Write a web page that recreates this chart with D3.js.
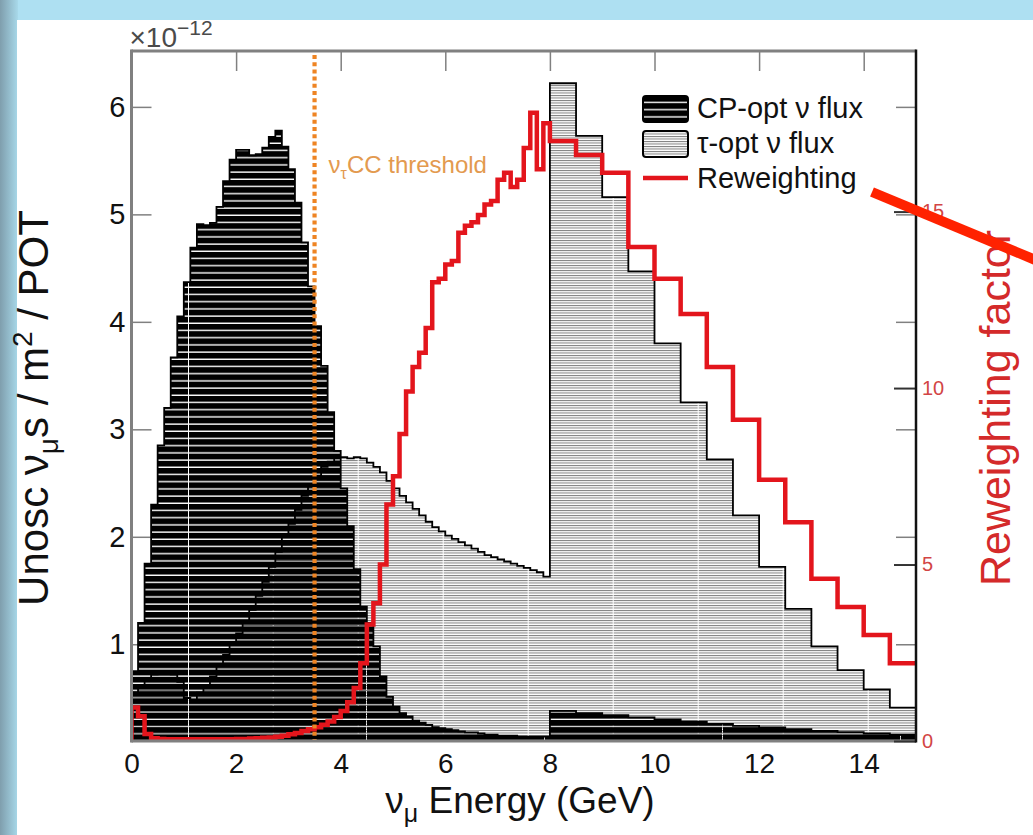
<!DOCTYPE html>
<html>
<head>
<meta charset="utf-8">
<script src="https://cdn.jsdelivr.net/npm/d3@7"></script>
<style>
  body { margin: 0; background: #fff; }
  svg { display: block; }
</style>
</head>
<body>
<div id="chart"></div>
<script>
const width = 1033, height = 835;

// bin low edges in GeV: 0.125 GeV bins up to 8, 0.5 GeV bins up to 15
const binEdges = [
  0, 0.125, 0.25, 0.375, 0.5, 0.625, 0.75, 0.875,
  1, 1.125, 1.25, 1.375, 1.5, 1.625, 1.75, 1.875,
  2, 2.125, 2.25, 2.375, 2.5, 2.625, 2.75, 2.875,
  3, 3.125, 3.25, 3.375, 3.5, 3.625, 3.75, 3.875,
  4, 4.125, 4.25, 4.375, 4.5, 4.625, 4.75, 4.875,
  5, 5.125, 5.25, 5.375, 5.5, 5.625, 5.75, 5.875,
  6, 6.125, 6.25, 6.375, 6.5, 6.625, 6.75, 6.875,
  7, 7.125, 7.25, 7.375, 7.5, 7.625, 7.75, 7.875,
  8, 8.5, 9, 9.5, 10, 10.5, 11, 11.5, 12, 12.5, 13, 13.5, 14, 14.5, 15
];

// CP-opt flux, units of 1e-12 nu / m2 / POT
const cpFlux = [
  0.75, 1.2, 1.75, 2.3, 2.85, 3.2, 3.67, 4.05,
  4.37, 4.69, 4.91, 4.9, 4.92, 5.07, 5.31, 5.51,
  5.6, 5.6, 5.55, 5.56, 5.62, 5.72, 5.78, 5.63,
  5.42, 5.11, 4.74, 4.33, 3.96, 3.59, 3.16, 2.8,
  2.45, 2.1, 1.7, 1.35, 1.2, 0.98, 0.7, 0.51,
  0.42, 0.36, 0.33, 0.29, 0.27, 0.25, 0.23, 0.22,
  0.21, 0.2, 0.19, 0.18, 0.18, 0.17, 0.16, 0.16,
  0.15, 0.15, 0.15, 0.14, 0.14, 0.14, 0.14, 0.14,
  0.38, 0.36, 0.34, 0.32, 0.30, 0.28, 0.26, 0.24, 0.226, 0.21, 0.195, 0.183, 0.17, 0.158
];

// tau-opt flux
const tauFlux = [
  0.55, 0.62, 0.68, 0.72, 0.74, 0.75, 0.72, 0.65,
  0.5, 0.48, 0.55, 0.62, 0.7, 0.8, 0.9, 1.0,
  1.1, 1.2, 1.32, 1.45, 1.58, 1.72, 1.86, 2.0,
  2.12, 2.25, 2.38, 2.48, 2.57, 2.65, 2.7, 2.74,
  2.74, 2.73, 2.74, 2.73, 2.69, 2.65, 2.6, 2.52,
  2.45, 2.38, 2.32, 2.26, 2.2, 2.14, 2.09, 2.05,
  2.01, 1.98, 1.95, 1.92, 1.89, 1.86, 1.83, 1.81,
  1.79, 1.77, 1.75, 1.73, 1.71, 1.69, 1.67, 1.63,
  6.22, 5.73, 5.16, 4.47, 3.8, 3.25, 2.72, 2.2, 1.72, 1.33, 0.98, 0.76, 0.58, 0.41
];

// reweighting factor (right axis)
const reweight = [
  0.95, 0.7, 0.2, 0.08, 0.06, 0.05, 0.05, 0.05,
  0.05, 0.05, 0.05, 0.05, 0.05, 0.05, 0.05, 0.05,
  0.06, 0.06, 0.07, 0.08, 0.09, 0.1, 0.12, 0.15,
  0.19, 0.23, 0.28, 0.33, 0.39, 0.46, 0.55, 0.68,
  0.85, 1.1, 1.5, 2.2, 3.3, 3.9, 5.0, 6.7,
  7.5, 8.7, 9.9, 10.6, 11.0, 11.7, 13.0, 13.1,
  13.5, 13.6, 14.4, 14.6, 14.7, 14.9, 15.2, 15.3,
  15.9, 16.1, 15.7, 15.9, 16.8, 17.8, 16.2, 17.5,
  17.0, 16.6, 16.1, 14.0, 13.1, 12.1, 10.6, 9.1, 7.4, 6.2, 4.6, 3.8, 3.0, 2.2
];

const xTicks = [0, 2, 4, 6, 8, 10, 12, 14];
const yTicks = [1, 2, 3, 4, 5, 6];
const yRTicks = [0, 5, 10, 15];
const threshold = 3.5;

const legendItems = [
  { label: "CP-opt \u03bd flux", kind: "cp" },
  { label: "\u03c4-opt \u03bd flux", kind: "tau" },
  { label: "Reweighting", kind: "line" }
];

const font = "'Liberation Sans', Arial, Helvetica, sans-serif";
const red = "#e3151c";

const svg = d3.select("#chart").append("svg")
  .attr("width", width)
  .attr("height", height)
  .style("font-family", font);

const defs = svg.append("defs");

// slide background
const grad = defs.append("linearGradient").attr("id", "leftBand");
grad.append("stop").attr("offset", "0%").attr("stop-color", "#7f9ead");
grad.append("stop").attr("offset", "100%").attr("stop-color", "#a8d9ea");

svg.append("rect").attr("width", width).attr("height", height).attr("fill", "#aee0f2");
svg.append("rect").attr("width", 18).attr("height", height).attr("fill", "url(#leftBand)");
svg.append("rect").attr("x", 17).attr("y", 20).attr("width", width - 17).attr("height", height - 20)
  .attr("fill", "#ffffff");

// plot geometry
const pLeft = 131.5, pRight = 916, pTop = 51, pBottom = 741;

const x = d3.scaleLinear().domain([0, 15]).range([pLeft, pRight]);
const y = d3.scaleLinear().domain([0.1, 6.52]).range([pBottom, pTop]);
const yR = d3.scaleLinear().domain([0, 19.55]).range([pBottom, pTop]);

defs.append("clipPath").attr("id", "plotClip")
  .append("rect").attr("x", pLeft).attr("y", pTop).attr("width", pRight - pLeft).attr("height", pBottom - pTop);

// hatch patterns
const cpPat = defs.append("pattern").attr("id", "cpHatch")
  .attr("patternUnits", "userSpaceOnUse")
  .attr("x", 10).attr("y", 0).attr("width", 178).attr("height", 7.2);
cpPat.append("rect").attr("x", 1).attr("y", 0).attr("width", 177).attr("height", 5.8).attr("fill", "#000");

const tauPat = defs.append("pattern").attr("id", "tauHatch")
  .attr("patternUnits", "userSpaceOnUse")
  .attr("x", 17.7).attr("y", 0).attr("width", 85).attr("height", 2.5);
tauPat.append("rect").attr("x", 1).attr("y", 0).attr("width", 84).attr("height", 1).attr("fill", "#7c7c7c");

const legCp = defs.append("pattern").attr("id", "cpLegend")
  .attr("patternUnits", "userSpaceOnUse").attr("width", 10).attr("height", 7.2);
legCp.append("rect").attr("width", 10).attr("height", 5.8).attr("fill", "#000");
const legTau = defs.append("pattern").attr("id", "tauLegend")
  .attr("patternUnits", "userSpaceOnUse").attr("width", 10).attr("height", 2.5);
legTau.append("rect").attr("width", 10).attr("height", 1).attr("fill", "#7c7c7c");

// ticks (drawn under the histograms, like ROOT)
const axisColor = "#808080";
function styleTicks(g, color, w) {
  g.select(".domain").remove();
  g.selectAll(".tick line").attr("stroke", color).attr("stroke-width", w);
}

svg.append("g").attr("transform", `translate(${pLeft},0)`)
  .call(d3.axisLeft(y).tickValues(yTicks).tickSizeInner(-20).tickSizeOuter(0).tickPadding(6)
    .tickFormat(d3.format("d")))
  .call(g => styleTicks(g, axisColor, 1.5))
  .call(g => g.selectAll("text").attr("font-size", 29).attr("fill", "#111").attr("font-family", font));

svg.append("g").attr("transform", `translate(${pRight},0)`)
  .call(d3.axisRight(y).tickValues(yTicks).tickSizeInner(-20).tickSizeOuter(0).tickFormat(""))
  .call(g => styleTicks(g, axisColor, 1.5));

svg.append("g").attr("transform", `translate(0,${pTop})`)
  .call(d3.axisTop(x).tickValues(xTicks.filter(d => d > 0)).tickSizeInner(-20).tickSizeOuter(0).tickFormat(""))
  .call(g => styleTicks(g, axisColor, 1.5));

svg.append("g").attr("transform", `translate(0,${pBottom})`)
  .call(d3.axisBottom(x).tickValues(xTicks).tickSizeInner(0).tickSizeOuter(0).tickPadding(12)
    .tickFormat(d3.format("d")))
  .call(g => styleTicks(g, axisColor, 1.5))
  .call(g => g.selectAll("text").attr("font-size", 28).attr("fill", "#111").attr("font-family", font));

// histograms
function binPoints(vals) {
  const pts = vals.map((v, i) => [binEdges[i], v]);
  pts.push([binEdges[vals.length], vals[vals.length - 1]]);
  return pts;
}
const area = d3.area().curve(d3.curveStepAfter)
  .x(d => x(d[0])).y0(y(0)).y1(d => y(d[1]));
const outline = d3.line().curve(d3.curveStepAfter)
  .x(d => x(d[0])).y(d => y(d[1]));
const rwLine = d3.line().curve(d3.curveStepAfter)
  .x(d => x(d[0])).y(d => yR(d[1]));

const plot = svg.append("g").attr("clip-path", "url(#plotClip)");

const tauPts = binPoints(tauFlux);
plot.append("path").attr("d", area(tauPts)).attr("fill", "url(#tauHatch)");
plot.append("path").attr("d", outline([[0, 0], ...tauPts, [15, 0]]))
  .attr("fill", "none").attr("stroke", "#000").attr("stroke-width", 1.8);

const cpPts = binPoints(cpFlux);
plot.append("path").attr("d", area(cpPts)).attr("fill", "url(#cpHatch)");
plot.append("path").attr("d", outline([[0, 0], ...cpPts, [15, 0]]))
  .attr("fill", "none").attr("stroke", "#000").attr("stroke-width", 1.8);

plot.append("path").attr("d", rwLine([[0, 0], ...binPoints(reweight)]))
  .attr("fill", "none").attr("stroke", red).attr("stroke-width", 4.5)
  .attr("stroke-linejoin", "miter");

// nu_tau CC threshold
plot.append("line")
  .attr("x1", x(threshold)).attr("x2", x(threshold))
  .attr("y1", pTop + 4).attr("y2", pBottom)
  .attr("stroke", "#ee8423").attr("stroke-width", 4.2).attr("stroke-dasharray", "4,3.2");

const thr = svg.append("text")
  .attr("x", x(threshold) + 14).attr("y", 173)
  .attr("font-size", 24).attr("fill", "#e39a4f");
thr.append("tspan").text("\u03bd");
thr.append("tspan").attr("font-size", 16).attr("dy", 6).text("\u03c4");
thr.append("tspan").attr("dy", -6).text("CC threshold");

// frame
svg.append("line").attr("x1", pLeft).attr("x2", pRight).attr("y1", pTop).attr("y2", pTop)
  .attr("stroke", axisColor).attr("stroke-width", 3);
svg.append("line").attr("x1", pLeft).attr("x2", pLeft).attr("y1", pTop - 1.5).attr("y2", pBottom + 1.5)
  .attr("stroke", axisColor).attr("stroke-width", 3);
svg.append("line").attr("x1", pLeft).attr("x2", pRight).attr("y1", pBottom).attr("y2", pBottom)
  .attr("stroke", axisColor).attr("stroke-width", 3);

// right reweighting axis
svg.append("g").attr("transform", `translate(${pRight},0)`)
  .call(d3.axisRight(yR).tickValues(yRTicks).tickSizeInner(-22).tickSizeOuter(0).tickPadding(6)
    .tickFormat(d3.format("d")))
  .call(g => styleTicks(g, "#333", 2))
  .call(g => g.selectAll("text").attr("font-size", 20).attr("fill", "#d24545").attr("font-family", font));
svg.append("line").attr("x1", pRight).attr("x2", pRight).attr("y1", pTop - 1.5).attr("y2", pBottom + 1.5)
  .attr("stroke", "#111").attr("stroke-width", 2.5);

// exponent label
const expo = svg.append("text").attr("x", pLeft - 2).attr("y", 47)
  .attr("font-size", 28).attr("fill", "#4a4a4a");
expo.append("tspan").text("\u00d710");
expo.append("tspan").attr("font-size", 21).attr("dy", -12).text("\u221212");

// axis titles
const xt = svg.append("text")
  .attr("x", 520).attr("y", 813)
  .attr("text-anchor", "middle").attr("font-size", 37).attr("fill", "#111");
xt.append("tspan").text("\u03bd");
xt.append("tspan").attr("font-size", 25).attr("dy", 9).text("\u03bc");
xt.append("tspan").attr("dy", -9).text(" Energy (GeV)");

const yt = svg.append("text")
  .attr("transform", "translate(48,408) rotate(-90)")
  .attr("text-anchor", "middle").attr("font-size", 42).attr("fill", "#111");
yt.append("tspan").text("Unosc \u03bd");
yt.append("tspan").attr("font-size", 28).attr("dy", 10).text("\u03bc");
yt.append("tspan").attr("dy", -10).text("s / m");
yt.append("tspan").attr("font-size", 28).attr("dy", -16).text("2");
yt.append("tspan").attr("dy", 16).text(" / POT");

svg.append("text")
  .attr("transform", "translate(1010,408) rotate(-90)")
  .attr("text-anchor", "middle").attr("font-size", 43).attr("fill", "#d42a2a")
  .text("Reweighting factor");

// legend
const legend = svg.append("g").attr("transform", "translate(643,96)");
legendItems.forEach((d, i) => {
  const g = legend.append("g").attr("transform", `translate(0,${i * 35})`);
  if (d.kind === "line") {
    g.append("line").attr("x1", 0).attr("x2", 45).attr("y1", 12).attr("y2", 12)
      .attr("stroke", red).attr("stroke-width", 4.5);
  } else {
    g.append("rect").attr("x", 0).attr("y", 0).attr("width", 45).attr("height", 26).attr("rx", 3)
      .attr("fill", d.kind === "cp" ? "url(#cpLegend)" : "url(#tauLegend)")
      .attr("stroke", "#000").attr("stroke-width", 2);
  }
  g.append("text").attr("x", 54).attr("y", 22)
    .attr("font-size", 29).attr("fill", "#111").text(d.label);
});

// slide annotation arrow
svg.append("line")
  .attr("x1", 872).attr("y1", 192).attr("x2", 1045).attr("y2", 264)
  .attr("stroke", "#ff2200").attr("stroke-width", 10);
</script>
</body>
</html>
